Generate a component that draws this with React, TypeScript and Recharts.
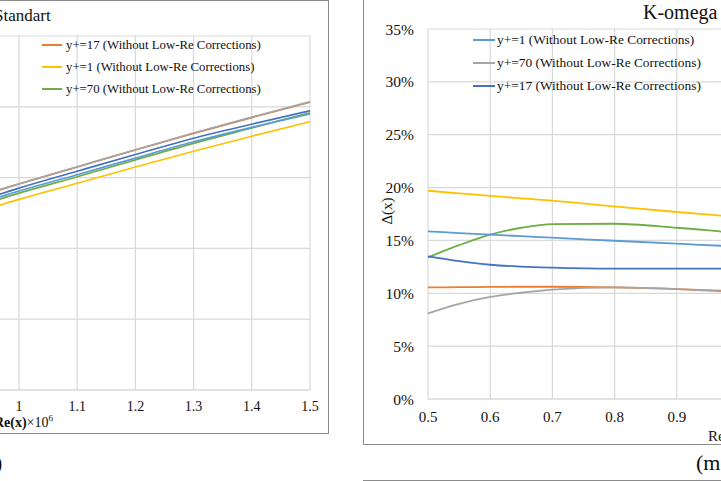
import React from 'react';
import { LineChart, Line, XAxis, YAxis, CartesianGrid, Legend } from 'recharts';

const SERIF = '"Liberation Serif", "Times New Roman", serif';

// shared x ticks (Re(x) x 10^6)
const reTicks = [0.5, 0.6, 0.7, 0.8, 0.9, 1, 1.1, 1.2, 1.3, 1.4, 1.5];

const leftRe = [0.5, 0.6, 0.7, 0.8, 0.9, 1.0, 1.1, 1.2, 1.3, 1.4, 1.5];
const leftY1A = [7.4, 8.8, 10.15, 11.45, 12.75, 14.05, 15.2, 16.38, 17.53, 18.55, 19.49];
const leftY70A = [7.9, 9.3, 10.7, 12.0, 13.3, 14.56, 15.76, 16.97, 18.15, 19.27, 20.36];
const leftY17A = [7.6, 9.0, 10.35, 11.65, 12.95, 14.26, 15.45, 16.63, 17.78, 18.77, 19.72];
const leftY17B = [7.9, 9.3, 10.7, 12.0, 13.3, 14.55, 15.75, 16.95, 18.12, 19.24, 20.32];
const leftY1B = [7.0, 8.35, 9.65, 10.9, 12.2, 13.46, 14.6, 15.75, 16.86, 17.92, 18.95];
const leftY70B = [7.3, 8.7, 10.0, 11.3, 12.6, 13.9, 15.06, 16.25, 17.42, 18.5, 19.58];
const leftYTicks = [0, 5, 10, 15, 20, 25];

// right panel (K-omega), percent
const rightRe = [0.5, 0.55, 0.6, 0.65, 0.7, 0.8, 0.9, 1.0, 1.1, 1.2, 1.3, 1.4, 1.5];
const rightY1A = [15.85, 15.7, 15.55, 15.4, 15.26, 14.97, 14.69, 14.42, 14.2, 14.0, 13.8, 13.6, 13.4];
const rightY70A = [8.1, 9.0, 9.65, 10.05, 10.35, 10.55, 10.4, 10.1, 9.85, 9.7, 9.5, 9.35, 9.2];
const rightY17A = [13.5, 13.05, 12.7, 12.52, 12.42, 12.33, 12.33, 12.33, 12.3, 12.3, 12.3, 12.3, 12.3];
const rightY17B = [10.55, 10.58, 10.6, 10.62, 10.62, 10.56, 10.4, 10.2, 9.95, 9.8, 9.6, 9.45, 9.3];
const rightY1B = [19.7, 19.45, 19.22, 18.98, 18.76, 18.22, 17.69, 17.2, 16.6, 16.1, 15.6, 15.1, 14.6];
const rightY70B = [13.4, 14.55, 15.55, 16.2, 16.55, 16.58, 16.2, 15.7, 15.3, 14.9, 14.5, 14.1, 13.7];
const pctTicks = [0, 5, 10, 15, 20, 25, 30, 35];

const leftLegendItems = [
  { key: 'y17B', label: 'y+=17 (Without Low-Re Corrections)' },
  { key: 'y1B', label: 'y+=1 (Without Low-Re Corrections)' },
  { key: 'y70B', label: 'y+=70 (Without Low-Re Corrections)' },
];
const rightLegendItems = [
  { key: 'y1A', label: 'y+=1 (Without Low-Re Corrections)' },
  { key: 'y70A', label: 'y+=70 (Without Low-Re Corrections)' },
  { key: 'y17A', label: 'y+=17 (Without Low-Re Corrections)' },
];

const COLORS: Record<string, string> = {
  y1A: '#5B9BD5',
  y70A: '#A5A5A5',
  y17A: '#4472C4',
  y17B: '#ED7D31',
  y1B: '#FFC000',
  y70B: '#70AD47',
};
// draw order: orange under gray so the top pair reads grey-brown
const DRAW_ORDER = ['y17B', 'y70A', 'y1B', 'y70B', 'y1A', 'y17A'];

const leftData = leftRe.map((re, i) => ({
  re,
  y1A: leftY1A[i],
  y70A: leftY70A[i],
  y17A: leftY17A[i],
  y17B: leftY17B[i],
  y1B: leftY1B[i],
  y70B: leftY70B[i],
}));

const rightData = rightRe.map((re, i) => ({
  re,
  y1A: rightY1A[i],
  y70A: rightY70A[i],
  y17A: rightY17A[i],
  y17B: rightY17B[i],
  y1B: rightY1B[i],
  y70B: rightY70B[i],
}));

function LegendBox({ items, fontSize, row, lineW, gap }: { items: { key: string; label: string }[]; fontSize: number; row: number; lineW: number; gap: number }) {
  return (
    <div style={{ fontFamily: SERIF, fontSize, color: '#111' }}>
      {items.map((it) => (
        <div key={it.key} style={{ display: 'flex', alignItems: 'center', height: row, whiteSpace: 'nowrap' }}>
          <span style={{ display: 'inline-block', width: lineW, height: 2, background: COLORS[it.key], marginRight: gap }} />
          <span>{it.label}</span>
        </div>
      ))}
    </div>
  );
}

function seriesLines(width: number) {
  return DRAW_ORDER.map((k) => (
    <Line
      key={k}
      type="monotone"
      dataKey={k}
      stroke={COLORS[k]}
      strokeWidth={width}
      dot={false}
      activeDot={false}
      isAnimationActive={false}
    />
  ));
}

export default function App() {
  return (
    <div style={{ position: 'relative', width: 721, height: 481, overflow: 'hidden', background: '#fff', fontFamily: SERIF }}>
      <style>{'body{margin:0}'}</style>

      {/* frames */}
      <div style={{ position: 'absolute', left: -10, top: 0, width: 339, height: 434, border: '1.5px solid #8c8c8c', boxSizing: 'border-box' }} />
      <div style={{ position: 'absolute', left: 362.5, top: -10, width: 420, height: 455, border: '1.5px solid #8c8c8c', boxSizing: 'border-box' }} />
      <div style={{ position: 'absolute', left: 363, top: 479.5, width: 400, height: 1.5, background: '#8c8c8c' }} />

      {/* left panel */}
      <div style={{ position: 'absolute', left: -300, top: 0 }}>
        <LineChart width={640} height={481} data={leftData} margin={{ top: 36, right: 30, left: 28, bottom: 61 }} style={{ fontFamily: SERIF }}>
          <CartesianGrid stroke="#d9d9d9" strokeWidth={1.2} />
          <XAxis
            dataKey="re"
            type="number"
            domain={[0.5, 1.5]}
            ticks={reTicks}
            tickFormatter={(v: number) => String(v)}
            axisLine={{ stroke: '#d9d9d9' }}
            tickLine={false}
            tickMargin={5}
            tick={{ fontSize: 14, fill: '#111', fontFamily: SERIF }}
          />
          <YAxis hide domain={[0, 25]} ticks={leftYTicks} />
          <Legend
            layout="vertical"
            align="center"
            verticalAlign="middle"
            wrapperStyle={{ left: 342, top: 34, width: 'auto' }}
            content={() => <LegendBox items={leftLegendItems} fontSize={12.8} row={22} lineW={20} gap={4} />}
          />
          {seriesLines(1.7)}
        </LineChart>
      </div>

      {/* right panel */}
      <div style={{ position: 'absolute', left: 363, top: 0 }}>
        <LineChart width={720} height={481} data={rightData} margin={{ top: 29, right: 33, left: 0, bottom: 52 }} style={{ fontFamily: SERIF }}>
          <CartesianGrid stroke="#d9d9d9" strokeWidth={1.2} />
          <XAxis
            dataKey="re"
            type="number"
            domain={[0.5, 1.5]}
            ticks={reTicks}
            tickFormatter={(v: number) => String(v)}
            axisLine={{ stroke: '#d9d9d9' }}
            tickLine={false}
            tickMargin={6}
            tick={{ fontSize: 15, fill: '#111', fontFamily: SERIF }}
          />
          <YAxis
            width={65}
            domain={[0, 35]}
            ticks={pctTicks}
            tickFormatter={(v: number) => `${v}%`}
            axisLine={false}
            tickLine={false}
            tickMargin={8}
            tick={{ fontSize: 15.5, fill: '#111', fontFamily: SERIF }}
          />
          <Legend
            layout="vertical"
            align="center"
            verticalAlign="middle"
            wrapperStyle={{ left: 110, top: 28.5, width: 'auto' }}
            content={() => <LegendBox items={rightLegendItems} fontSize={13.4} row={23} lineW={22} gap={2} />}
          />
          {seriesLines(1.8)}
        </LineChart>
      </div>

      {/* titles and axis labels */}
      <div style={{ position: 'absolute', left: -6, top: 6, fontSize: 17, color: '#111', whiteSpace: 'nowrap' }}>Standart</div>
      <div style={{ position: 'absolute', left: 643, top: 1, fontSize: 20, color: '#111', whiteSpace: 'nowrap' }}>K-omega</div>
      <div style={{ position: 'absolute', right: 668, top: 413, fontSize: 14, color: '#111', whiteSpace: 'nowrap' }}>
        <b>Re(x)</b>×10<sup style={{ fontSize: '0.65em' }}>6</sup>
      </div>
      <div style={{ position: 'absolute', left: 708, top: 426, fontSize: 15, color: '#111', whiteSpace: 'nowrap' }}>
        Re(x)×10<sup style={{ fontSize: '0.65em' }}>6</sup>
      </div>
      <div
        style={{
          position: 'absolute',
          left: 386.5,
          top: 210.5,
          transform: 'translate(-50%, -50%) rotate(-90deg)',
          fontSize: 15,
          color: '#111',
          whiteSpace: 'nowrap',
        }}
      >
        Δ(x)
      </div>
      <div style={{ position: 'absolute', left: -5, top: 450, fontSize: 22, fontWeight: 'bold', color: '#111' }}>)</div>
      <div style={{ position: 'absolute', left: 696, top: 450, fontSize: 22, color: '#111', whiteSpace: 'nowrap' }}>(m</div>
    </div>
  );
}
